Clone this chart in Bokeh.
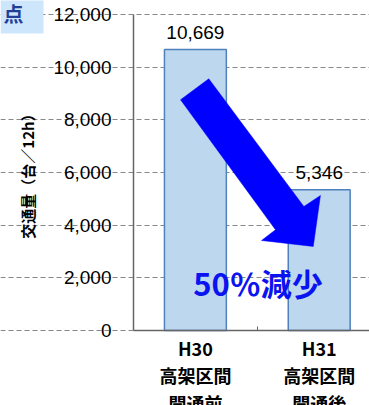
from bokeh.plotting import figure
from bokeh.models import Range1d, FixedTicker, NumeralTickFormatter, Label, LabelSet, ColumnDataSource
from bokeh.embed import file_html
from bokeh.resources import INLINE
from bokeh.core.properties import value

# ---- data ----
categories = ["H30\n高架区間\n開通前", "H31\n高架区間\n開通後"]
volumes = [10669, 5346]
value_labels = ["10,669", "5,346"]
y_ticks = [0, 2000, 4000, 6000, 8000, 10000, 12000]
y_title = "交通量（台／12h）"
note_text = "50％減少"
corner_text = "点"

# decorative arrow outline (data units: category axis, vehicles)
arrow_x = [0.380, 0.608, 1.376, 1.510, 1.452, 1.034, 1.147]
arrow_y = [8761, 9558, 4709, 5127, 3190, 3418, 3824]

# ---- layout (frame covers the canvas; axes are pinned at 0) ----
W, H = 369, 405
L, T, B = 133, 14, 75          # pixel margins around the plotting area
cat_px = 123.8                 # pixels per category
y_px = 316 / 12000             # pixels per vehicle
x_start, x_end = -L / cat_px, (W - L) / cat_px
y_start, y_end = -B / y_px, 12000 + T / y_px

p = figure(width=W, height=H, x_range=Range1d(x_start, x_end), y_range=Range1d(y_start, y_end),
           output_backend="svg", toolbar_location=None,
           min_border_left=0, min_border_right=0, min_border_top=0, min_border_bottom=0)
p.outline_line_color = None

xs = [i + 0.5 for i in range(len(categories))]
src = ColumnDataSource(dict(x=xs, top=volumes, lab=value_labels))

p.vbar(x="x", top="top", width=0.5, source=src, fill_color="#bdd7ee",
       line_color="#4f81bd", line_width=1.5)

p.add_layout(LabelSet(x="x", y="top", text="lab", source=src, y_offset=11,
                      text_align="center", text_baseline="bottom",
                      text_font=value("Liberation Sans"), text_font_size="19px",
                      text_color="black"))

p.patch(arrow_x, arrow_y, fill_color="#0000ff", line_color="#0000ff", line_width=0.5)

p.add_layout(Label(x=1.006, y=1823, text=note_text, text_align="center",
                   text_baseline="middle", text_font="Noto Sans CJK JP",
                   text_font_size="31px", text_font_style="bold", text_color="#0a14f0"))

# cut-off corner element
p.add_layout(Label(x=x_start, y=y_end + 3 / y_px, text=corner_text,
                   text_align="left", text_baseline="top",
                   text_font="Noto Sans CJK JP", text_font_size="20px",
                   text_font_style="bold", text_color="#1f3f99",
                   background_fill_color="#cde6fb",
                   padding=dict(left=3, right=20, top=1, bottom=6)))

# grid
p.xgrid.grid_line_color = None
p.ygrid.ticker = FixedTicker(ticks=y_ticks)
p.ygrid.bounds = (0, x_end)
p.ygrid.grid_line_color = "#888888"
p.ygrid.grid_line_dash = "5 3"
p.ygrid.grid_line_width = 1.2

# y axis
p.yaxis.fixed_location = 0
p.yaxis.bounds = (0, 12000)
p.yaxis.ticker = FixedTicker(ticks=y_ticks)
p.yaxis.formatter = NumeralTickFormatter(format="0,0")
p.yaxis.major_tick_in = 0
p.yaxis.major_tick_out = 0
p.yaxis.minor_tick_line_color = None
p.yaxis.axis_line_color = "#666666"
p.yaxis.axis_line_width = 1.5
p.yaxis.major_label_standoff = 22
p.yaxis.major_label_text_font = "Liberation Sans"
p.yaxis.major_label_text_font_size = "19px"
p.yaxis.major_label_text_color = "black"
p.yaxis.axis_label = y_title
p.yaxis.axis_label_text_font = "Noto Sans CJK JP"
p.yaxis.axis_label_text_font_style = "bold"
p.yaxis.axis_label_text_font_size = "15px"
p.yaxis.axis_label_text_color = "black"
p.yaxis.axis_label_standoff = 12

# x axis
p.xaxis.fixed_location = 0
p.xaxis.bounds = (0, x_end)
p.xaxis.ticker = FixedTicker(ticks=xs, minor_ticks=[1.0])
p.xaxis.major_label_overrides = {xs[i]: categories[i] for i in range(len(categories))}
p.xaxis.major_tick_in = 0
p.xaxis.major_tick_out = 0
p.xaxis.minor_tick_in = 4
p.xaxis.minor_tick_out = 0
p.xaxis.minor_tick_line_color = "#666666"
p.xaxis.axis_line_color = "#666666"
p.xaxis.axis_line_width = 1.5
p.xaxis.major_label_standoff = 4
p.xaxis.major_label_text_font = "Noto Sans CJK JP"
p.xaxis.major_label_text_font_style = "bold"
p.xaxis.major_label_text_font_size = "18px"
p.xaxis.major_label_text_line_height = 1.07
p.xaxis.major_label_text_color = "black"

open("out.html", "w").write(file_html(p, INLINE))
